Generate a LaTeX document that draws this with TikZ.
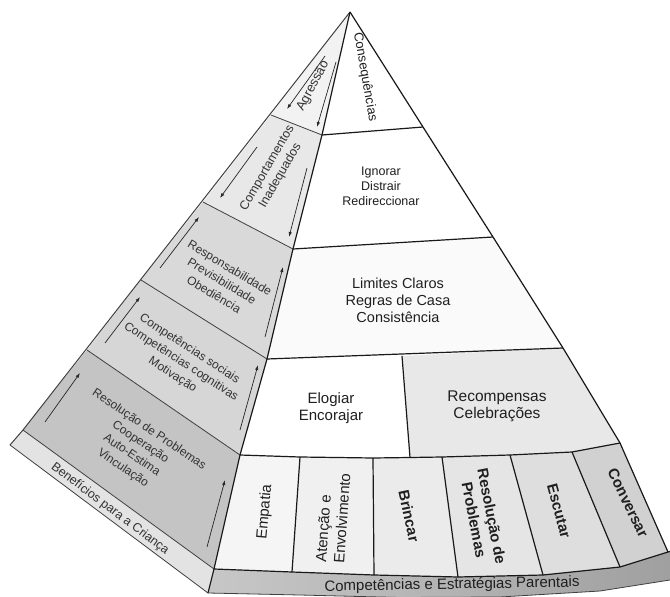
\documentclass[tikz,border=0pt]{standalone}
\usepackage{fontspec}
\setmainfont{Liberation Sans}
\usetikzlibrary{arrows.meta}
\begin{document}
\begin{tikzpicture}[x=1pt,y=-1pt,
  frontline/.style={draw=black!90, line width=1.2pt, line join=round},
  sideline/.style={draw=black!75, line width=0.8pt, line join=round},
  arr/.style={-{Latex[length=5pt,width=3.4pt]}, line width=0.7pt, draw=black!85},
  stext/.style={font=\fontsize{12}{15.5}\selectfont, align=center, text=black!80, inner sep=0pt},
  ftext/.style={align=center, text=black!88, inner sep=0pt},
  ctext/.style={font=\fontsize{15}{18}\selectfont, align=center, text=black!88, inner sep=0pt}]
\useasboundingbox (0,0) rectangle (670,597);
\clip (0,0) rectangle (670,597);
\fill[white] (0,0) rectangle (670,597);
% ---------- points ----------
\coordinate (A) at (350,12);
\coordinate (L1) at (271,115);
\coordinate (L2) at (203,202);
\coordinate (L3) at (141,280);
\coordinate (L4) at (87,350);
\coordinate (L5) at (23,430);
\coordinate (L6) at (10,445);
\coordinate (R1) at (322,135);
\coordinate (R2) at (293,249);
\coordinate (R3) at (267,359);
\coordinate (R4) at (240,455);
\coordinate (R5) at (214,569);
\coordinate (R6) at (208,593);
\coordinate (E1) at (423,127);
\coordinate (E2) at (493,237);
\coordinate (E3) at (563,348);
\coordinate (E4) at (620,443);
\coordinate (E5) at (668,552);
\coordinate (E6) at (692,545);
\coordinate (D3) at (402,356);
\coordinate (D4) at (410,457.5);
\coordinate (T1) at (300,457);
\coordinate (T2) at (373,458);
\coordinate (T3) at (442,457);
\coordinate (T4) at (510,455);
\coordinate (T5) at (572,452);
\coordinate (B1) at (292,572);
\coordinate (B2) at (374,575);
\coordinate (B3) at (458,577);
\coordinate (B4) at (543,575);
\coordinate (B5) at (620,567);
\coordinate (Q1) at (300,595);
\coordinate (Q2) at (400,597.5);
\coordinate (Q3) at (500,597);
\coordinate (Q4) at (600,591);
\coordinate (Q5) at (670,580);
\coordinate (Q6) at (692,576);
% ---------- left face fills ----------
\fill[black!5]  (A) -- (L1) -- (R1) -- cycle;
\fill[black!9]  (L1) -- (L2) -- (R2) -- (R1) -- cycle;
\fill[black!15] (L2) -- (L3) -- (R3) -- (R2) -- cycle;
\fill[black!16] (L3) -- (L4) -- (R4) -- (R3) -- cycle;
\fill[black!23] (L4) -- (L5) -- (R5) -- (R4) -- cycle;
\fill[black!11] (L5) -- (L6) -- (R6) -- (R5) -- cycle;
% ---------- front face fills ----------
\fill[white]    (A) -- (E1) -- (R1) -- cycle;
\fill[white]    (R1) -- (E1) -- (E2) -- (R2) -- cycle;
\fill[black!2]  (R2) -- (E2) -- (E3) -- (R3) -- cycle;
\fill[white]    (R3) -- (D3) -- (D4) -- (T2) -- (T1) -- (R4) -- cycle;
\fill[black!9]  (D3) -- (E3) -- (E4) -- (T5) -- (T4) -- (T3) -- (D4) -- cycle;
\fill[black!4]  (R4) -- (T1) -- (B1) -- (R5) -- cycle;
\fill[black!6]  (T1) -- (T2) -- (B2) -- (B1) -- cycle;
\fill[black!8]  (T2) -- (T3) -- (B3) -- (B2) -- cycle;
\fill[black!10] (T3) -- (T4) -- (B4) -- (B3) -- cycle;
\fill[black!13] (T4) -- (T5) -- (B5) -- (B4) -- cycle;
\fill[black!18] (T5) -- (E4) -- (E5) -- (B5) -- cycle;
\shade[left color=black!22, right color=black!38]
  (R5) -- (B1) -- (B2) -- (B3) -- (B4) -- (B5) -- (E5) -- (E6) -- (Q6) -- (Q5) -- (Q4) -- (Q3) -- (Q2) -- (Q1) -- (R6) -- cycle;
% ---------- left face lines ----------
\draw[sideline] (L1) -- (R1);
\draw[sideline] (L2) -- (R2);
\draw[sideline] (L3) -- (R3);
\draw[sideline] (L4) -- (R4);
\draw[sideline] (L5) -- (R5);
\draw[sideline] (L6) -- (R6);
\draw[sideline, line width=1pt] (A) -- (L5) -- (L6);
% ---------- front face lines ----------
\draw[frontline] (A) -- (E1) -- (E2) -- (E3) -- (E4) -- (E5);
\draw[frontline] (A) -- (R1) -- (R2) -- (R3) -- (R4) -- (R5) -- (R6);
\draw[frontline] (R1) -- (E1);
\draw[frontline] (R2) -- (E2);
\draw[frontline] (R3) -- (E3);
\draw[frontline] (R4) -- (T1) -- (T2) -- (D4) -- (T3) -- (T4) -- (T5) -- (E4);
\draw[frontline] (D3) -- (D4);
\draw[frontline] (T1) -- (B1);
\draw[frontline] (T2) -- (B2);
\draw[frontline] (T3) -- (B3);
\draw[frontline] (T4) -- (B4);
\draw[frontline] (T5) -- (B5);
\draw[frontline] (R5) -- (B1) -- (B2) -- (B3) -- (B4) -- (B5) -- (E5) -- (E6);
\draw[sideline] (R6) -- (Q1) -- (Q2) -- (Q3) -- (Q4) -- (Q5) -- (Q6);
% ---------- arrows ----------
\coordinate (a1s) at (325,56);  \coordinate (a1e) at (287,109);
\coordinate (a2s) at (336,62);  \coordinate (a2e) at (317,127);
\coordinate (a3s) at (257,147); \coordinate (a3e) at (220,198);
\coordinate (a4s) at (307,168); \coordinate (a4e) at (289,237);
\coordinate (a5s) at (160,268); \coordinate (a5e) at (199,217);
\coordinate (a6s) at (265,337); \coordinate (a6e) at (283,267);
\coordinate (a7s) at (105,343); \coordinate (a7e) at (140,297);
\coordinate (a8s) at (240,430); \coordinate (a8e) at (258,365);
\coordinate (a9s) at (45,422);  \coordinate (a9e) at (80,373);
\coordinate (a10s) at (207,547); \coordinate (a10e) at (225,480);
\foreach \i in {1,...,10} {\draw[arr] (a\i s) -- (a\i e);}
% ---------- left face texts ----------
\node[stext, font=\fontsize{13}{15}\selectfont, rotate=62] (tAgr) at (313,86) {Agressão};
\node[stext, font=\fontsize{12.5}{15}\selectfont, rotate=60] (tComp) at (274,172) {Comportamentos\\Inadequados};
\node[stext, rotate=-31] (tResp) at (222,281) {Responsabilidade\\Previsibilidade\\Obediência};
\node[stext, rotate=-33] (tCompet) at (181,362) {Competências sociais\\Competências cognitivas\\Motivação};
\node[stext, rotate=-34] (tResol) at (136,449) {Resolução de Problemas\\Cooperação\\Auto-Estima\\Vinculação};
\node[stext, font=\fontsize{12.5}{15}\selectfont, rotate=-37] (tBen) at (110,509) {Benefícios para a Criança};
% ---------- front face texts ----------
\node[ftext, font=\fontsize{13}{15}\selectfont, rotate=-80] (tCons) at (365,77) {Consequências};
\node[ftext, font=\fontsize{12.5}{15}\selectfont] (tIgn) at (381,186) {Ignorar\\Distrair\\Redireccionar};
\node[ftext, font=\fontsize{14.5}{17}\selectfont] (tLim) at (398,300) {Limites Claros\\Regras de Casa\\Consistência};
\node[ftext, font=\fontsize{15}{17}\selectfont] (tElo) at (331,408) {Elogiar\\Encorajar};
\node[ftext, font=\fontsize{15.5}{17}\selectfont] (tRec) at (497,406) {Recompensas\\Celebrações};
\node[ctext, rotate=85] (cEmp) at (265,512) {Empatia};
\node[ctext, rotate=86, align=left] (cAt) at (333,518) {Atenção e\\Envolvimento};
\node[ctext, font=\bfseries\fontsize{15}{18}\selectfont, rotate=-78] (cBr) at (409,516) {Brincar};
\node[ctext, font=\bfseries\fontsize{15}{18}\selectfont, rotate=-79] (cRes) at (483,518) {Resolução de\\Problemas};
\node[ctext, font=\bfseries\fontsize{15}{18}\selectfont, rotate=-75] (cEsc) at (559,511) {Escutar};
\node[ctext, font=\bfseries\fontsize{15}{18}\selectfont, rotate=-64] (cConv) at (628,503) {Conversar};
\node[ftext, font=\fontsize{15}{17}\selectfont, rotate=1] (tPar) at (452,585) {Competências e Estratégias Parentais};
\end{tikzpicture}
\end{document}
